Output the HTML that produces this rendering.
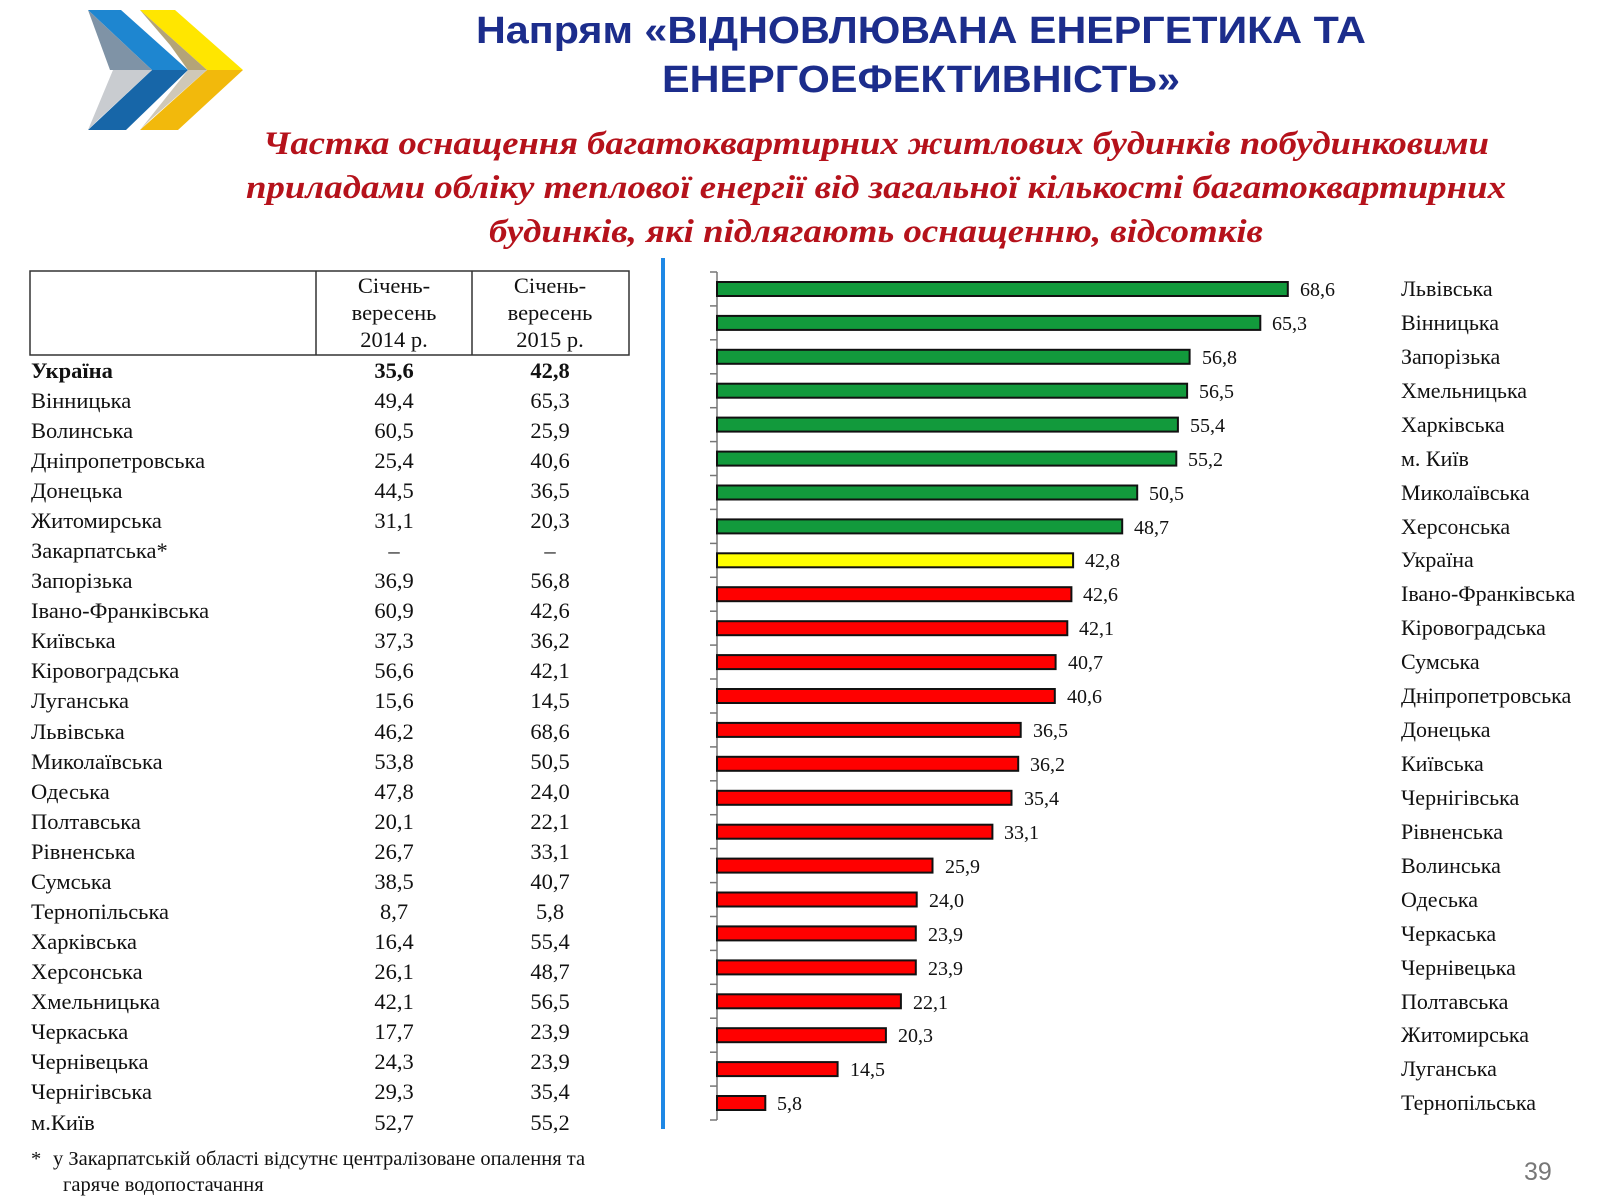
<!DOCTYPE html>
<html><head><meta charset="utf-8"><style>
html,body{margin:0;padding:0;background:#fff;}
svg{display:block;}
.t{font-family:"Liberation Serif",serif;font-size:22.5px;fill:#111;}
.r{font-family:"Liberation Serif",serif;font-size:22px;fill:#111;}
.v{font-family:"Liberation Serif",serif;font-size:20px;fill:#111;}
</style></head><body>
<svg width="1600" height="1200" viewBox="0 0 1600 1200" xmlns="http://www.w3.org/2000/svg">
<polygon points="88,10 121,10 188,70 152,70" fill="#1e86d0"/>
<polygon points="88,10 152,70 138,70 110,70" fill="#7f93a6"/>
<polygon points="152,70 188,70 126,130 88,130" fill="#1766a8"/>
<polygon points="113,70 152,70 98,120 88,130" fill="#c9ccd0"/>
<polygon points="140,10 175,10 243,70 207,70" fill="#ffe600"/>
<polygon points="140,10 207,70 188,70 170,45" fill="#b4a478"/>
<polygon points="207,70 243,70 178,130 140,130" fill="#f2b90c"/>
<polygon points="188,70 207,70 150,120 140,130" fill="#cfc8b8"/>
<g font-family="'Liberation Sans',sans-serif" font-weight="bold" font-size="38" fill="#1c2d8c" text-anchor="middle">
<text x="921" y="43" textLength="890" lengthAdjust="spacingAndGlyphs">Напрям «ВІДНОВЛЮВАНА ЕНЕРГЕТИКА ТА</text>
<text x="921" y="92" textLength="518" lengthAdjust="spacingAndGlyphs">ЕНЕРГОЕФЕКТИВНІСТЬ»</text>
</g>
<g font-family="'Liberation Serif',serif" font-weight="bold" font-style="italic" font-size="33" fill="#b5121b" text-anchor="middle">
<text x="876" y="154" textLength="1226" lengthAdjust="spacingAndGlyphs">Частка оснащення багатоквартирних житлових будинків побудинковими</text>
<text x="876" y="198" textLength="1260" lengthAdjust="spacingAndGlyphs">приладами обліку теплової енергії від загальної кількості багатоквартирних</text>
<text x="876" y="242" textLength="774" lengthAdjust="spacingAndGlyphs">будинків, які підлягають оснащенню, відсотків</text>
</g>
<rect x="30" y="271" width="599" height="84" fill="none" stroke="#333" stroke-width="1.5"/>
<line x1="316" y1="271" x2="316" y2="355" stroke="#333" stroke-width="1.5"/>
<line x1="472" y1="271" x2="472" y2="355" stroke="#333" stroke-width="1.5"/>
<g class="t" text-anchor="middle">
<text x="394" y="293">Січень-</text><text x="394" y="320">вересень</text><text x="394" y="347">2014 р.</text>
<text x="550" y="293">Січень-</text><text x="550" y="320">вересень</text><text x="550" y="347">2015 р.</text>
</g>
<g class="t">
<text x="31" y="378" font-weight="bold">Україна</text>
<text x="31" y="408">Вінницька</text>
<text x="31" y="438">Волинська</text>
<text x="31" y="468">Дніпропетровська</text>
<text x="31" y="498">Донецька</text>
<text x="31" y="528">Житомирська</text>
<text x="31" y="558">Закарпатська*</text>
<text x="31" y="588">Запорізька</text>
<text x="31" y="618">Івано-Франківська</text>
<text x="31" y="648">Київська</text>
<text x="31" y="678">Кіровоградська</text>
<text x="31" y="708">Луганська</text>
<text x="31" y="739">Львівська</text>
<text x="31" y="769">Миколаївська</text>
<text x="31" y="799">Одеська</text>
<text x="31" y="829">Полтавська</text>
<text x="31" y="859">Рівненська</text>
<text x="31" y="889">Сумська</text>
<text x="31" y="919">Тернопільська</text>
<text x="31" y="949">Харківська</text>
<text x="31" y="979">Херсонська</text>
<text x="31" y="1009">Хмельницька</text>
<text x="31" y="1039">Черкаська</text>
<text x="31" y="1069">Чернівецька</text>
<text x="31" y="1099">Чернігівська</text>
<text x="31" y="1130">м.Київ</text>
</g>
<g class="t" text-anchor="middle">
<text x="394" y="378" font-weight="bold">35,6</text><text x="550" y="378" font-weight="bold">42,8</text>
<text x="394" y="408">49,4</text><text x="550" y="408">65,3</text>
<text x="394" y="438">60,5</text><text x="550" y="438">25,9</text>
<text x="394" y="468">25,4</text><text x="550" y="468">40,6</text>
<text x="394" y="498">44,5</text><text x="550" y="498">36,5</text>
<text x="394" y="528">31,1</text><text x="550" y="528">20,3</text>
<text x="394" y="558">–</text><text x="550" y="558">–</text>
<text x="394" y="588">36,9</text><text x="550" y="588">56,8</text>
<text x="394" y="618">60,9</text><text x="550" y="618">42,6</text>
<text x="394" y="648">37,3</text><text x="550" y="648">36,2</text>
<text x="394" y="678">56,6</text><text x="550" y="678">42,1</text>
<text x="394" y="708">15,6</text><text x="550" y="708">14,5</text>
<text x="394" y="739">46,2</text><text x="550" y="739">68,6</text>
<text x="394" y="769">53,8</text><text x="550" y="769">50,5</text>
<text x="394" y="799">47,8</text><text x="550" y="799">24,0</text>
<text x="394" y="829">20,1</text><text x="550" y="829">22,1</text>
<text x="394" y="859">26,7</text><text x="550" y="859">33,1</text>
<text x="394" y="889">38,5</text><text x="550" y="889">40,7</text>
<text x="394" y="919">8,7</text><text x="550" y="919">5,8</text>
<text x="394" y="949">16,4</text><text x="550" y="949">55,4</text>
<text x="394" y="979">26,1</text><text x="550" y="979">48,7</text>
<text x="394" y="1009">42,1</text><text x="550" y="1009">56,5</text>
<text x="394" y="1039">17,7</text><text x="550" y="1039">23,9</text>
<text x="394" y="1069">24,3</text><text x="550" y="1069">23,9</text>
<text x="394" y="1099">29,3</text><text x="550" y="1099">35,4</text>
<text x="394" y="1130">52,7</text><text x="550" y="1130">55,2</text>
</g>
<g font-family="'Liberation Serif',serif" font-size="20.5" fill="#111">
<text x="31" y="1165">*</text>
<text x="53" y="1165">у Закарпатській області відсутнє централізоване опалення та</text>
<text x="63" y="1191">гаряче водопостачання</text>
</g>
<rect x="661" y="258" width="4" height="871" fill="#1e88e5"/>
<g stroke="#777" stroke-width="1.5">
<line x1="717" y1="272" x2="717" y2="1120"/>
<line x1="710" y1="272.0" x2="717" y2="272.0"/><line x1="710" y1="305.9" x2="717" y2="305.9"/><line x1="710" y1="339.8" x2="717" y2="339.8"/><line x1="710" y1="373.8" x2="717" y2="373.8"/><line x1="710" y1="407.7" x2="717" y2="407.7"/><line x1="710" y1="441.6" x2="717" y2="441.6"/><line x1="710" y1="475.5" x2="717" y2="475.5"/><line x1="710" y1="509.4" x2="717" y2="509.4"/><line x1="710" y1="543.4" x2="717" y2="543.4"/><line x1="710" y1="577.3" x2="717" y2="577.3"/><line x1="710" y1="611.2" x2="717" y2="611.2"/><line x1="710" y1="645.1" x2="717" y2="645.1"/><line x1="710" y1="679.0" x2="717" y2="679.0"/><line x1="710" y1="713.0" x2="717" y2="713.0"/><line x1="710" y1="746.9" x2="717" y2="746.9"/><line x1="710" y1="780.8" x2="717" y2="780.8"/><line x1="710" y1="814.7" x2="717" y2="814.7"/><line x1="710" y1="848.6" x2="717" y2="848.6"/><line x1="710" y1="882.6" x2="717" y2="882.6"/><line x1="710" y1="916.5" x2="717" y2="916.5"/><line x1="710" y1="950.4" x2="717" y2="950.4"/><line x1="710" y1="984.3" x2="717" y2="984.3"/><line x1="710" y1="1018.2" x2="717" y2="1018.2"/><line x1="710" y1="1052.2" x2="717" y2="1052.2"/><line x1="710" y1="1086.1" x2="717" y2="1086.1"/><line x1="710" y1="1120" x2="717" y2="1120"/>
</g>
<g stroke="#111" stroke-width="2">
<rect x="717" y="282.0" width="570.8" height="14" fill="#129a3c"/>
<rect x="717" y="315.9" width="543.3" height="14" fill="#129a3c"/>
<rect x="717" y="349.8" width="472.6" height="14" fill="#129a3c"/>
<rect x="717" y="383.7" width="470.1" height="14" fill="#129a3c"/>
<rect x="717" y="417.6" width="460.9" height="14" fill="#129a3c"/>
<rect x="717" y="451.6" width="459.3" height="14" fill="#129a3c"/>
<rect x="717" y="485.5" width="420.2" height="14" fill="#129a3c"/>
<rect x="717" y="519.4" width="405.2" height="14" fill="#129a3c"/>
<rect x="717" y="553.3" width="356.1" height="14" fill="#ffff00"/>
<rect x="717" y="587.2" width="354.4" height="14" fill="#ff0000"/>
<rect x="717" y="621.2" width="350.3" height="14" fill="#ff0000"/>
<rect x="717" y="655.1" width="338.6" height="14" fill="#ff0000"/>
<rect x="717" y="689.0" width="337.8" height="14" fill="#ff0000"/>
<rect x="717" y="722.9" width="303.7" height="14" fill="#ff0000"/>
<rect x="717" y="756.8" width="301.2" height="14" fill="#ff0000"/>
<rect x="717" y="790.8" width="294.5" height="14" fill="#ff0000"/>
<rect x="717" y="824.7" width="275.4" height="14" fill="#ff0000"/>
<rect x="717" y="858.6" width="215.5" height="14" fill="#ff0000"/>
<rect x="717" y="892.5" width="199.7" height="14" fill="#ff0000"/>
<rect x="717" y="926.4" width="198.8" height="14" fill="#ff0000"/>
<rect x="717" y="960.4" width="198.8" height="14" fill="#ff0000"/>
<rect x="717" y="994.3" width="183.9" height="14" fill="#ff0000"/>
<rect x="717" y="1028.2" width="168.9" height="14" fill="#ff0000"/>
<rect x="717" y="1062.1" width="120.6" height="14" fill="#ff0000"/>
<rect x="717" y="1096.0" width="48.3" height="14" fill="#ff0000"/>
</g>
<g class="v">
<text x="1300" y="296">68,6</text>
<text x="1272" y="330">65,3</text>
<text x="1202" y="364">56,8</text>
<text x="1199" y="398">56,5</text>
<text x="1190" y="432">55,4</text>
<text x="1188" y="466">55,2</text>
<text x="1149" y="500">50,5</text>
<text x="1134" y="534">48,7</text>
<text x="1085" y="567">42,8</text>
<text x="1083" y="601">42,6</text>
<text x="1079" y="635">42,1</text>
<text x="1068" y="669">40,7</text>
<text x="1067" y="703">40,6</text>
<text x="1033" y="737">36,5</text>
<text x="1030" y="771">36,2</text>
<text x="1024" y="805">35,4</text>
<text x="1004" y="839">33,1</text>
<text x="945" y="873">25,9</text>
<text x="929" y="907">24,0</text>
<text x="928" y="941">23,9</text>
<text x="928" y="975">23,9</text>
<text x="913" y="1009">22,1</text>
<text x="898" y="1042">20,3</text>
<text x="850" y="1076">14,5</text>
<text x="777" y="1110">5,8</text>
</g>
<g class="r">
<text x="1401" y="296">Львівська</text>
<text x="1401" y="330">Вінницька</text>
<text x="1401" y="364">Запорізька</text>
<text x="1401" y="398">Хмельницька</text>
<text x="1401" y="432">Харківська</text>
<text x="1401" y="466">м. Київ</text>
<text x="1401" y="500">Миколаївська</text>
<text x="1401" y="534">Херсонська</text>
<text x="1401" y="567">Україна</text>
<text x="1401" y="601">Івано-Франківська</text>
<text x="1401" y="635">Кіровоградська</text>
<text x="1401" y="669">Сумська</text>
<text x="1401" y="703">Дніпропетровська</text>
<text x="1401" y="737">Донецька</text>
<text x="1401" y="771">Київська</text>
<text x="1401" y="805">Чернігівська</text>
<text x="1401" y="839">Рівненська</text>
<text x="1401" y="873">Волинська</text>
<text x="1401" y="907">Одеська</text>
<text x="1401" y="941">Черкаська</text>
<text x="1401" y="975">Чернівецька</text>
<text x="1401" y="1009">Полтавська</text>
<text x="1401" y="1042">Житомирська</text>
<text x="1401" y="1076">Луганська</text>
<text x="1401" y="1110">Тернопільська</text>
</g>
<text x="1524" y="1180" font-family="'Liberation Sans',sans-serif" font-size="25" fill="#777">39</text>
</svg>
</body></html>
